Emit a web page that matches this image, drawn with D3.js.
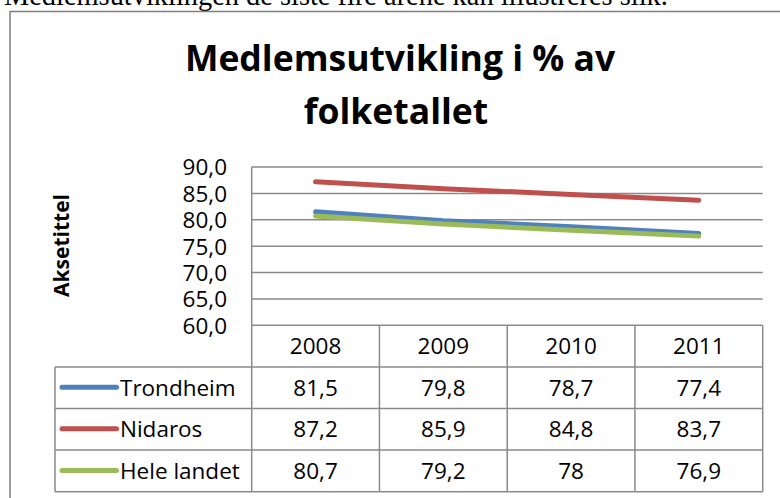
<!DOCTYPE html>
<html>
<head>
<meta charset="utf-8">
<script src="https://cdn.jsdelivr.net/npm/d3@7"></script>
<style>
html,body{margin:0;padding:0;background:#fff;overflow:hidden;}
svg{display:block;}
</style>
</head>
<body>
<svg id="chart" width="780" height="498"></svg>
<script>
// ---- data ----
const years = ["2008", "2009", "2010", "2011"];
const seriesNames = ["Trondheim", "Nidaros", "Hele landet"];
const trondheim = [81.5, 79.8, 78.7, 77.4];
const nidaros = [87.2, 85.9, 84.8, 83.7];
const heleLandet = [80.7, 79.2, 78.0, 76.9];
const tableLabels = [["81,5","79,8","78,7","77,4"],["87,2","85,9","84,8","83,7"],["80,7","79,2","78","76,9"]];
const yTicks = [60, 65, 70, 75, 80, 85, 90];
const seriesColors = ["#4F81BD", "#C0504D", "#9BBB59"];
const titleLines = ["Medlemsutvikling i % av", "folketallet"];
const axisTitle = "Aksetittel";
const introText = "Medlemsutviklingen de siste fire årene kan illustreres slik.";

const seriesValues = [trondheim, nidaros, heleLandet];

// ---- layout ----
const svg = d3.select("#chart");
const plotL = 251.7, plotR = 762.7, plotT = 167, plotB = 325.3;
const rowH = 41.6, legendL = 55;
const gridColor = "#8a8a8a";
const font = "'Open Sans', sans-serif";

const x = d3.scaleBand().domain(years).range([plotL, plotR]);
const y = d3.scaleLinear().domain([60, 90]).range([plotB, plotT]);

// intro text (cut off at top)
svg.append("text").attr("x", 4).attr("y", 5)
  .attr("font-family", "'Liberation Serif', 'Times New Roman', serif")
  .attr("font-size", 28.4).attr("fill", "#000").text(introText);

// outer chart border
svg.append("rect").attr("x", 10).attr("y", 11.5).attr("width", 900).attr("height", 600)
  .attr("fill", "none").attr("stroke", "#7f7f7f").attr("stroke-width", 1.5);

// title
svg.append("text").attr("x", 400).attr("y", 71).attr("text-anchor", "middle")
  .attr("font-family", font).attr("font-weight", "bold").attr("font-size", 35.5)
  .text(titleLines[0]);
svg.append("text").attr("x", 396).attr("y", 124).attr("text-anchor", "middle")
  .attr("font-family", font).attr("font-weight", "bold").attr("font-size", 35.5)
  .text(titleLines[1]);

// axis title
svg.append("text").attr("transform", "translate(69,245.5) rotate(-90)")
  .attr("text-anchor", "middle").attr("font-family", font).attr("font-weight", "bold")
  .attr("font-size", 21).text(axisTitle);

// gridlines
svg.append("g").selectAll("line").data(yTicks).join("line")
  .attr("x1", plotL).attr("x2", plotR)
  .attr("y1", d => y(d)).attr("y2", d => y(d))
  .attr("stroke", gridColor).attr("stroke-width", 1.5);

// y axis labels
const fmt = d => d3.format(".1f")(d).replace(".", ",");
const yAxis = d3.axisLeft(y).tickValues(yTicks).tickFormat(fmt).tickSize(0).tickPadding(0);
const ya = svg.append("g").attr("transform", `translate(227,0)`).call(yAxis);
ya.select(".domain").remove();
ya.selectAll("text").attr("font-family", font).attr("font-size", 22.5).attr("fill", "#000")
  .attr("dy", "0.35em");

// lines
const line = d3.line().x((d, i) => x(years[i]) + x.bandwidth() / 2).y(d => y(d));
svg.append("g").selectAll("path").data(seriesValues).join("path")
  .attr("d", d => line(d)).attr("fill", "none")
  .attr("stroke", (d, i) => seriesColors[i]).attr("stroke-width", 5)
  .attr("stroke-linecap", "round").attr("stroke-linejoin", "round");

// table
const tableBottom = plotB + rowH * 4;
const tg = svg.append("g");
const colEdges = years.map(d => x(d)).concat([plotR]);
colEdges.forEach((cx, i) => {
  tg.append("line").attr("x1", cx).attr("x2", cx)
    .attr("y1", i === 0 ? plotT : plotB).attr("y2", tableBottom)
    .attr("stroke", gridColor).attr("stroke-width", 1.5);
});
tg.append("line").attr("x1", legendL).attr("x2", legendL)
  .attr("y1", plotB + rowH).attr("y2", tableBottom)
  .attr("stroke", gridColor).attr("stroke-width", 1.5);
for (let r = 1; r <= 4; r++) {
  tg.append("line").attr("x1", legendL).attr("x2", plotR)
    .attr("y1", plotB + rowH * r).attr("y2", plotB + rowH * r)
    .attr("stroke", gridColor).attr("stroke-width", 1.5);
}
tg.selectAll("text.yr").data(years).join("text").attr("class", "yr")
  .attr("x", d => x(d) + x.bandwidth() / 2).attr("y", plotB + rowH / 2)
  .attr("dy", "0.35em").attr("text-anchor", "middle")
  .attr("font-family", font).attr("font-size", 22.5).text(d => d);
seriesNames.forEach((name, r) => {
  const cy = plotB + rowH * (r + 1) + rowH / 2;
  tg.append("line").attr("x1", 62).attr("x2", 116.5).attr("y1", cy - 0.5).attr("y2", cy - 0.5)
    .attr("stroke", seriesColors[r]).attr("stroke-width", 5).attr("stroke-linecap", "round");
  tg.append("text").attr("x", 120).attr("y", cy).attr("dy", "0.35em")
    .attr("font-family", font).attr("font-size", 22.5).text(name);
  tg.selectAll(null).data(years).join("text")
    .attr("x", d => x(d) + x.bandwidth() / 2).attr("y", cy).attr("dy", "0.35em")
    .attr("text-anchor", "middle").attr("font-family", font).attr("font-size", 22.5)
    .text((d, i) => tableLabels[r][i]);
});
</script>
</body>
</html>
